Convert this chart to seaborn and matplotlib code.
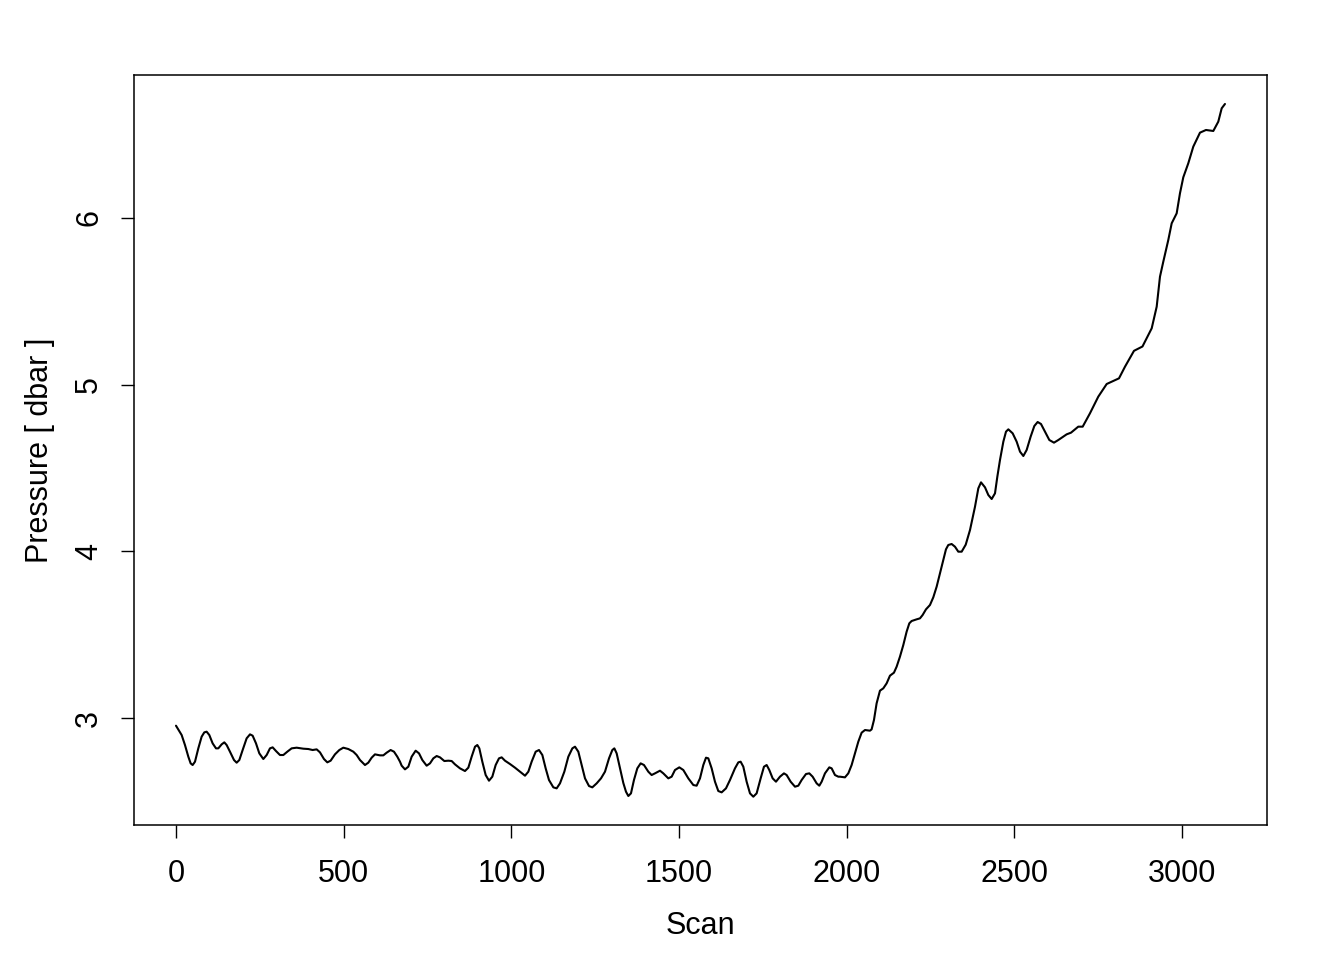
import numpy as np
import pandas as pd
import matplotlib
matplotlib.use("Agg")
import matplotlib.pyplot as plt
import seaborn as sns

# values
scan = [0.0, 16.9, 26.8, 36.8, 43.7, 49.7, 56.7, 66.6, 76.5, 84.5,
        91.4, 99.4, 109.3, 119.3, 126.2, 136.2, 144.1, 151.1, 161.0, 173.0,
        180.9, 188.9, 198.8, 210.7, 220.7, 228.6, 238.6, 248.5, 260.4, 270.4,
        280.3, 288.3, 298.2, 310.1, 320.1, 332.0, 344.9, 359.8, 379.7, 394.6,
        407.5, 419.5, 429.4, 441.3, 451.3, 461.2, 474.1, 487.1, 499.0, 513.9,
        528.8, 538.8, 548.7, 563.6, 573.5, 583.5, 593.4, 608.3, 618.3, 628.2,
        640.1, 650.1, 660.0, 668.0, 673.0, 682.9, 692.9, 702.8, 714.7, 724.7,
        734.6, 747.5, 757.5, 767.4, 777.4, 787.3, 800.2, 812.1, 822.1, 832.0,
        846.9, 861.8, 871.8, 881.7, 891.7, 898.6, 904.6, 913.5, 923.5, 933.4,
        943.3, 953.3, 963.2, 971.2, 981.1, 996.0, 1011.0, 1025.9, 1040.8, 1050.7,
        1060.6, 1072.6, 1082.5, 1092.5, 1102.4, 1112.3, 1125.3, 1135.2, 1145.1, 1158.1,
        1170.0, 1182.0, 1189.9, 1199.8, 1209.7, 1219.7, 1231.6, 1241.5, 1254.5, 1267.4,
        1279.3, 1291.3, 1301.2, 1307.2, 1314.1, 1324.1, 1334.0, 1341.9, 1348.9, 1356.8,
        1365.7, 1375.7, 1385.6, 1395.6, 1408.5, 1418.4, 1428.4, 1443.3, 1453.2, 1468.1,
        1478.1, 1488.0, 1500.9, 1512.9, 1527.8, 1542.7, 1552.6, 1562.6, 1572.5, 1580.5,
        1587.4, 1597.4, 1607.3, 1617.2, 1627.2, 1640.1, 1652.0, 1666.9, 1676.9, 1683.8,
        1691.8, 1701.7, 1711.7, 1721.6, 1731.5, 1743.5, 1753.4, 1761.4, 1769.3, 1779.3,
        1789.2, 1801.1, 1813.0, 1821.0, 1832.9, 1845.9, 1855.8, 1865.7, 1878.7, 1888.6,
        1898.5, 1910.5, 1918.4, 1925.4, 1935.3, 1948.2, 1955.2, 1965.1, 1975.1, 1980.0,
        1994.9, 2004.9, 2014.8, 2024.7, 2034.7, 2044.6, 2054.6, 2069.5, 2074.4, 2081.4,
        2089.3, 2099.3, 2109.2, 2119.2, 2129.1, 2141.0, 2149.0, 2158.9, 2168.9, 2178.8,
        2186.8, 2193.7, 2208.6, 2218.6, 2226.5, 2236.5, 2248.4, 2258.3, 2268.3, 2278.2,
        2288.1, 2296.1, 2303.0, 2313.0, 2322.9, 2332.9, 2342.9, 2355.0, 2367.8, 2382.7,
        2392.6, 2400.6, 2412.5, 2422.4, 2432.4, 2442.3, 2449.3, 2457.2, 2467.2, 2475.1,
        2482.1, 2495.0, 2506.9, 2516.9, 2526.8, 2536.7, 2548.6, 2559.6, 2569.5, 2579.5,
        2591.4, 2604.3, 2618.2, 2631.2, 2656.0, 2669.0, 2690.6, 2703.8, 2725.5, 2750.3,
        2775.4, 2812.1, 2830.0, 2856.8, 2882.1, 2909.6, 2924.5, 2934.3, 2944.2, 2959.1,
        2969.2, 2984.1, 2993.9, 3003.8, 3018.7, 3033.6, 3053.6, 3071.5, 3093.3, 3108.2,
        3118.3, 3128.1]
pressure = [2.954, 2.898, 2.838, 2.768, 2.728, 2.718, 2.738, 2.818, 2.888, 2.914,
            2.918, 2.898, 2.848, 2.818, 2.818, 2.842, 2.854, 2.838, 2.798, 2.748,
            2.732, 2.748, 2.808, 2.878, 2.902, 2.894, 2.848, 2.788, 2.754, 2.778,
            2.818, 2.824, 2.802, 2.778, 2.778, 2.798, 2.818, 2.822, 2.816, 2.814,
            2.808, 2.812, 2.794, 2.754, 2.734, 2.744, 2.782, 2.808, 2.822, 2.814,
            2.798, 2.778, 2.748, 2.718, 2.732, 2.762, 2.782, 2.776, 2.776, 2.792,
            2.808, 2.798, 2.768, 2.738, 2.714, 2.692, 2.708, 2.768, 2.804, 2.788,
            2.748, 2.714, 2.728, 2.758, 2.772, 2.764, 2.742, 2.744, 2.742, 2.722,
            2.698, 2.682, 2.702, 2.768, 2.828, 2.838, 2.818, 2.738, 2.658, 2.624,
            2.648, 2.718, 2.758, 2.764, 2.744, 2.724, 2.702, 2.678, 2.654, 2.678,
            2.738, 2.798, 2.808, 2.778, 2.698, 2.628, 2.584, 2.578, 2.608, 2.678,
            2.768, 2.818, 2.828, 2.798, 2.718, 2.638, 2.592, 2.584, 2.608, 2.638,
            2.678, 2.758, 2.808, 2.818, 2.788, 2.698, 2.610, 2.558, 2.532, 2.548,
            2.628, 2.698, 2.728, 2.718, 2.678, 2.658, 2.668, 2.684, 2.668, 2.638,
            2.648, 2.688, 2.704, 2.688, 2.638, 2.598, 2.594, 2.638, 2.718, 2.762,
            2.758, 2.698, 2.618, 2.562, 2.554, 2.578, 2.628, 2.698, 2.734, 2.738,
            2.708, 2.618, 2.548, 2.528, 2.548, 2.638, 2.708, 2.718, 2.688, 2.638,
            2.618, 2.648, 2.668, 2.658, 2.618, 2.588, 2.594, 2.628, 2.664, 2.668,
            2.648, 2.608, 2.594, 2.618, 2.668, 2.704, 2.698, 2.658, 2.648, 2.648,
            2.644, 2.668, 2.718, 2.788, 2.858, 2.912, 2.928, 2.924, 2.932, 2.988,
            3.088, 3.164, 3.178, 3.208, 3.254, 3.272, 3.308, 3.368, 3.438, 3.518,
            3.568, 3.582, 3.592, 3.598, 3.618, 3.652, 3.678, 3.724, 3.788, 3.868,
            3.948, 4.012, 4.038, 4.044, 4.028, 3.998, 3.998, 4.040, 4.128, 4.268,
            4.378, 4.414, 4.384, 4.338, 4.314, 4.348, 4.448, 4.548, 4.658, 4.718,
            4.732, 4.708, 4.658, 4.598, 4.572, 4.608, 4.688, 4.752, 4.776, 4.764,
            4.718, 4.668, 4.652, 4.668, 4.702, 4.712, 4.748, 4.748, 4.828, 4.928,
            5.004, 5.038, 5.108, 5.203, 5.229, 5.338, 5.468, 5.648, 5.738, 5.868,
            5.968, 6.028, 6.148, 6.244, 6.328, 6.428, 6.512, 6.528, 6.522, 6.578,
            6.658, 6.684]
x_ticks = [0, 500, 1000, 1500, 2000, 2500, 3000]
y_ticks = [3, 4, 5, 6]

df = pd.DataFrame({"scan": scan, "pressure": pressure})

sns.set_theme(style="white")
plt.rcParams["font.family"] = ["Liberation Sans", "DejaVu Sans"]
plt.rcParams["font.size"] = 22
plt.rcParams["text.color"] = "black"
plt.rcParams["axes.labelcolor"] = "black"
plt.rcParams["xtick.color"] = "black"
plt.rcParams["ytick.color"] = "black"

fig = plt.figure(figsize=(13.44, 9.6), dpi=100)
ax = fig.add_axes([0.0997, 0.1406, 0.843, 0.7813])

sns.lineplot(data=df, x="scan", y="pressure", color="black", linewidth=1.5,
             estimator=None, sort=False, ax=ax)
ax.lines[0].set_solid_joinstyle("round")
ax.lines[0].set_solid_capstyle("round")

ax.set_xlim(-125.2, 3253.4)
ax.set_ylim(2.358, 6.858)
ax.set_xticks(x_ticks)
ax.set_yticks(y_ticks)
ax.set_xticklabels([str(t) for t in x_ticks], fontsize=22)
ax.set_yticklabels([str(t) for t in y_ticks], fontsize=22, rotation=90, va="center")
ax.tick_params(axis="both", direction="out", length=9.5, width=1.0, color="black",
               bottom=True, left=True)
ax.tick_params(axis="x", pad=15)
ax.tick_params(axis="y", pad=12)
ax.set_xlabel("Scan", fontsize=22, labelpad=16)
ax.set_ylabel("Pressure [ dbar ]", fontsize=22, labelpad=14)
for s in ax.spines.values():
    s.set_visible(True)
    s.set_color("black")
    s.set_linewidth(1.1)
ax.grid(False)

fig.savefig("out.png", dpi=100, facecolor="white")
